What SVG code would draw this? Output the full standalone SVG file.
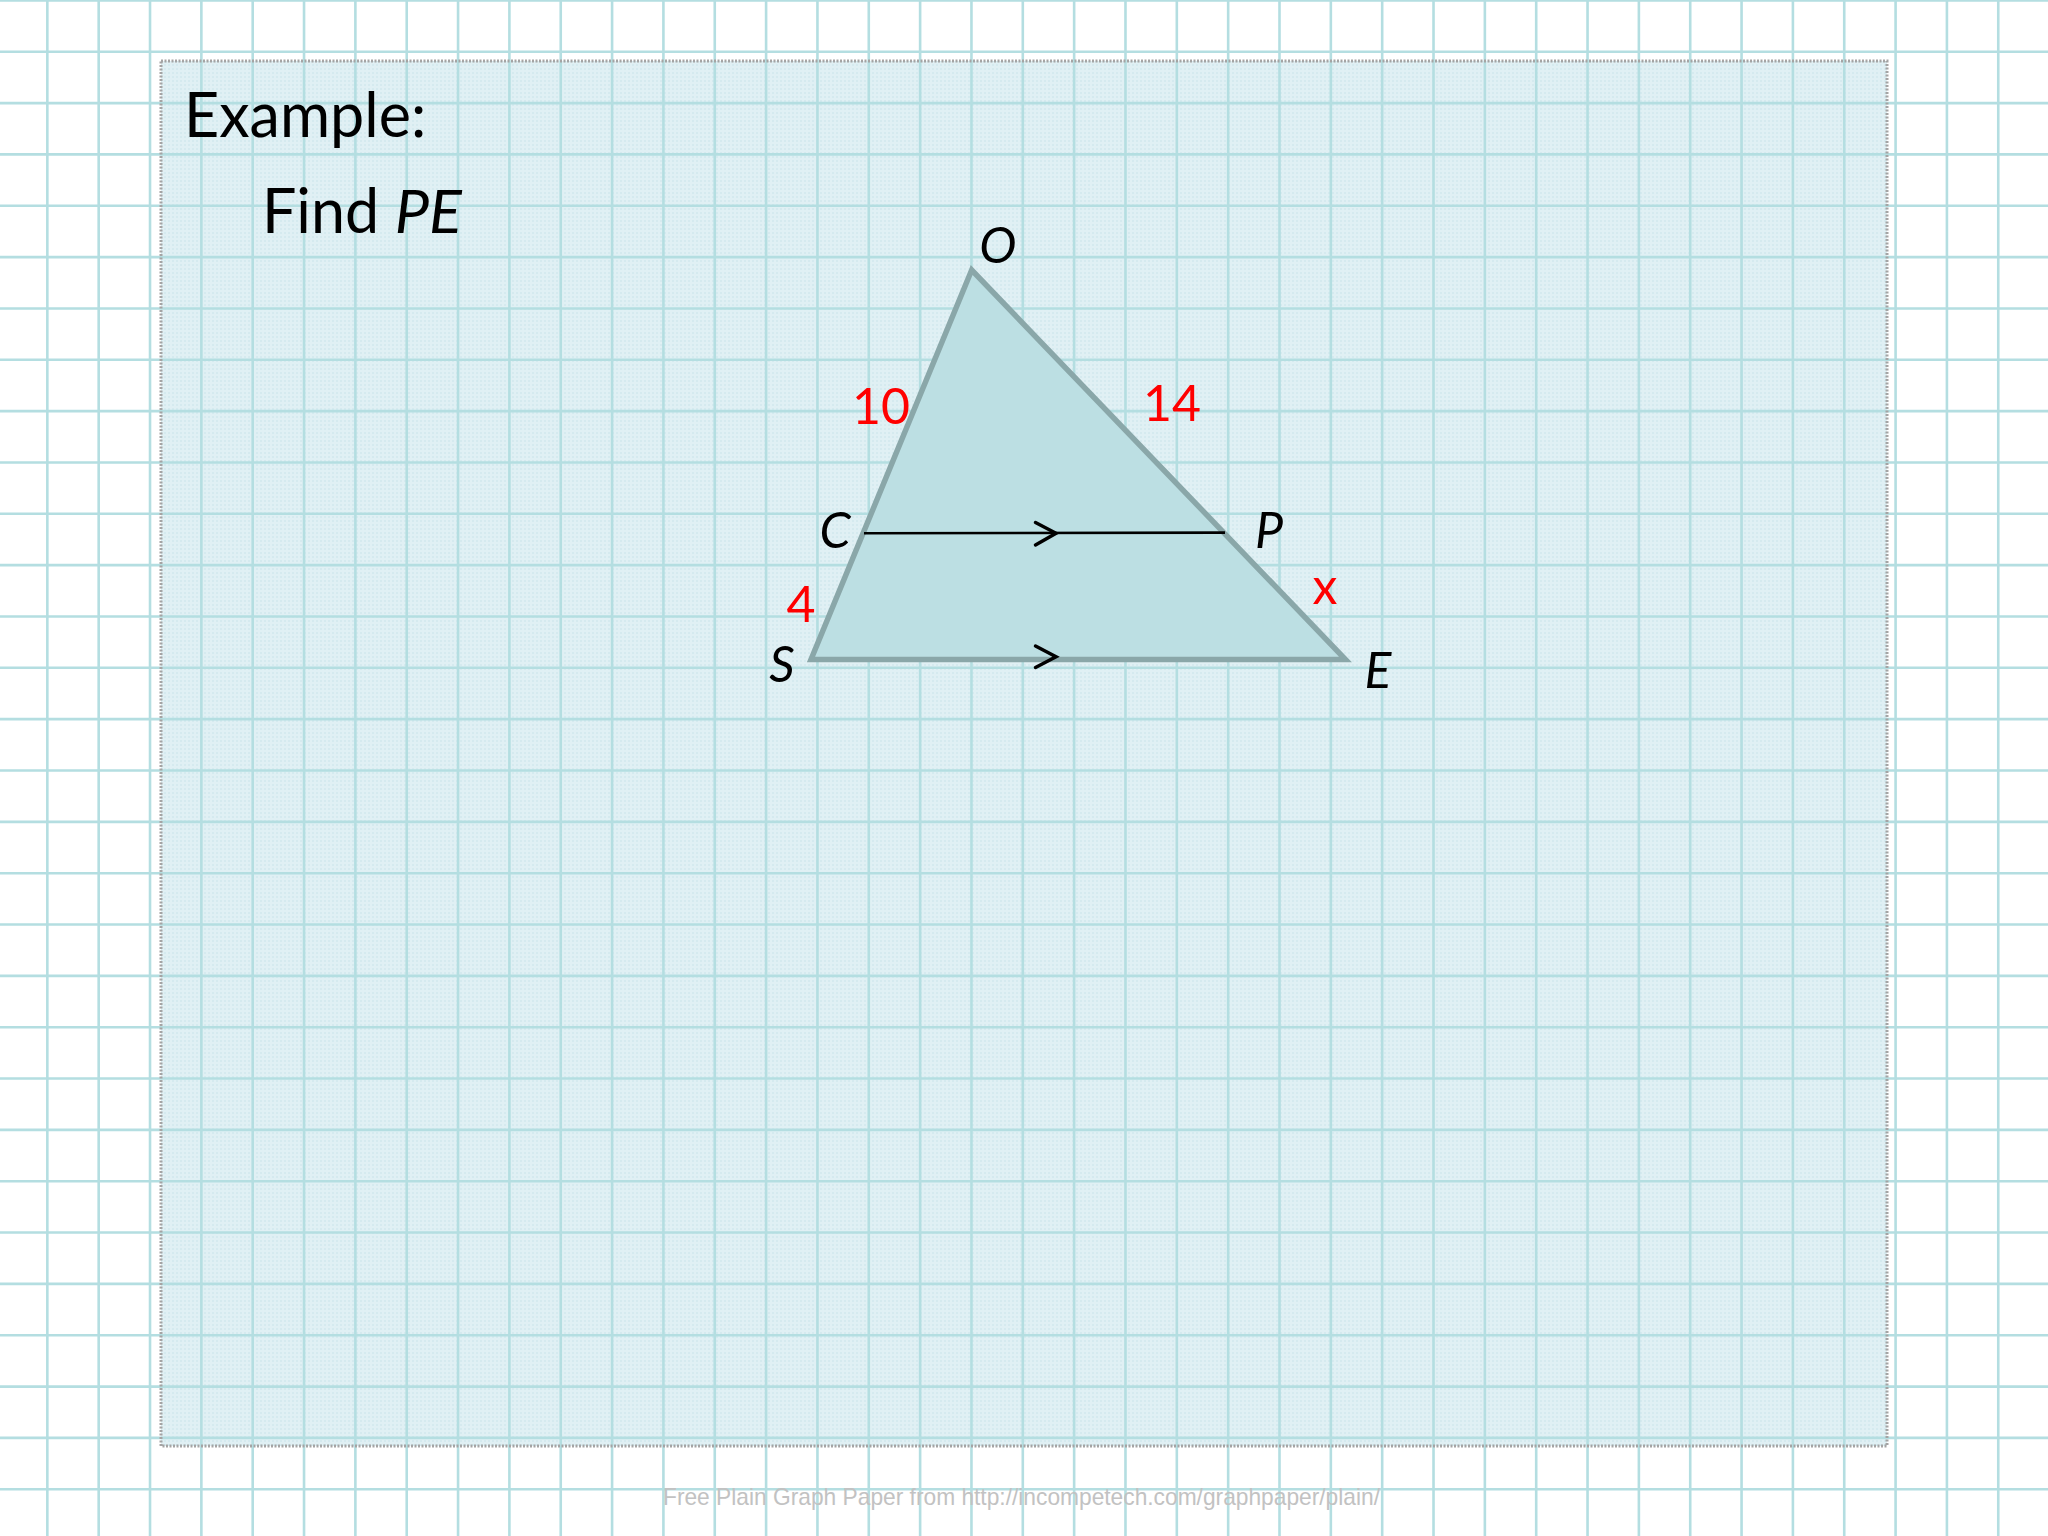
<svg xmlns="http://www.w3.org/2000/svg" width="2048" height="1536" viewBox="0 0 2048 1536">
  <style>
    .grid { fill: none; stroke: #b4dee1; stroke-width: 2.6; }
    .gridin { fill: none; stroke: #a2d8d5; stroke-width: 2.6; }
    .title { font-family: Lato, "Liberation Sans", sans-serif; font-size: 61px; fill: #000; }
    .lbl { font-family: Lato, "Liberation Sans", sans-serif; font-size: 50px; font-style: italic; fill: #000; text-anchor: middle; }
    .num { font-family: Lato, "Liberation Sans", sans-serif; font-size: 50px; fill: #ff0000; text-anchor: middle; }
    .chev { fill: none; stroke: #000; stroke-width: 3.5; stroke-linecap: round; stroke-linejoin: miter; }
    .foot { font-family: "Liberation Sans", Arial, sans-serif; font-size: 24px; fill: #c2c2c2; }
  </style>
  <defs>
    <clipPath id="panelClip">
      <rect x="161" y="61" width="1726" height="1385"/>
    </clipPath>
    <pattern id="tex" patternUnits="userSpaceOnUse" width="4" height="4">
      <rect width="4" height="4" fill="#e0f0f4"/>
      <rect x="0" y="0" width="2" height="2" fill="#d5eaef"/>
    </pattern>
  </defs>

  <g id="background">
    <rect x="0" y="0" width="2048" height="1536" fill="#ffffff"/>
    <path id="gridlines" class="grid" d="M47.34 0V1536M98.68 0V1536M150.02 0V1536M201.36 0V1536M252.7 0V1536M304.04 0V1536M355.38 0V1536M406.72 0V1536M458.06 0V1536M509.4 0V1536M560.74 0V1536M612.08 0V1536M663.42 0V1536M714.76 0V1536M766.1 0V1536M817.44 0V1536M868.78 0V1536M920.12 0V1536M971.46 0V1536M1022.8 0V1536M1074.14 0V1536M1125.48 0V1536M1176.82 0V1536M1228.16 0V1536M1279.5 0V1536M1330.84 0V1536M1382.18 0V1536M1433.52 0V1536M1484.86 0V1536M1536.2 0V1536M1587.54 0V1536M1638.88 0V1536M1690.22 0V1536M1741.56 0V1536M1792.9 0V1536M1844.24 0V1536M1895.58 0V1536M1946.92 0V1536M1998.26 0V1536M0 0.4H2048M0 51.74H2048M0 103.08H2048M0 154.42H2048M0 205.76H2048M0 257.1H2048M0 308.44H2048M0 359.78H2048M0 411.12H2048M0 462.46H2048M0 513.8H2048M0 565.14H2048M0 616.48H2048M0 667.82H2048M0 719.16H2048M0 770.5H2048M0 821.84H2048M0 873.18H2048M0 924.52H2048M0 975.86H2048M0 1027.2H2048M0 1078.54H2048M0 1129.88H2048M0 1181.22H2048M0 1232.56H2048M0 1283.9H2048M0 1335.24H2048M0 1386.58H2048M0 1437.92H2048M0 1489.26H2048"/>
  </g>

  <g id="panel">
    <rect x="161" y="61" width="1726" height="1385" fill="url(#tex)"/>
    <use href="#gridlines" class="gridin" clip-path="url(#panelClip)" style="stroke:#a3d8d5"/>
    <rect x="161" y="61" width="1726" height="1385" fill="none" stroke="#a4a4a4" stroke-width="3" stroke-dasharray="2 1.5"/>
  </g>

  <g id="title">
    <text class="title" x="184" y="137">Example:</text>
    <text class="title" x="262" y="233">Find <tspan font-style="italic">PE</tspan></text>
  </g>

  <g id="triangle-OSE">
    <polygon points="971.7,270 811,659.5 1345.5,659.5" fill="#bcdfe3" stroke="#8aa7a9" stroke-width="5.5" stroke-linejoin="miter"/>
  </g>

  <g id="connectors">
    <line id="segment-CP" x1="864" y1="533.3" x2="1225" y2="532.6" stroke="#000" stroke-width="2.6"/>
    <polyline class="chev" points="1035.5,522.5 1056,533.3 1035.5,545"/>
    <polyline class="chev" points="1035.5,646 1056,656.7 1035.5,667.5"/>
  </g>

  <g id="vertex-labels">
    <text id="label-O" class="lbl" x="998" y="263">O</text>
    <text id="label-C" class="lbl" x="835" y="548">C</text>
    <text id="label-P" class="lbl" x="1269" y="548">P</text>
    <text id="label-S" class="lbl" x="782" y="682">S</text>
    <text id="label-E" class="lbl" x="1378" y="688">E</text>
  </g>

  <g id="length-labels">
    <text id="len-OC" class="num" x="881" y="424">10</text>
    <text id="len-OP" class="num" x="1172" y="421">14</text>
    <text id="len-CS" class="num" x="801" y="622">4</text>
    <text id="len-PE" class="num" x="1325" y="604">x</text>
  </g>

  <g id="footer">
    <text class="foot" x="663" y="1505" textLength="717" lengthAdjust="spacingAndGlyphs">Free Plain Graph Paper from http://incompetech.com/graphpaper/plain/</text>
  </g>
</svg>
